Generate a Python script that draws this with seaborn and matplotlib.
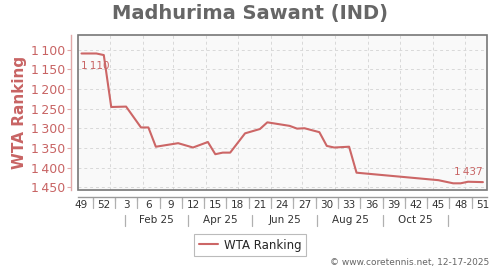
import datetime as dt
import matplotlib
matplotlib.use("Agg")
import matplotlib.pyplot as plt
import matplotlib.transforms as mtransforms
from matplotlib.patches import Rectangle
import seaborn as sns
import pandas as pd

# ---- data ----
start_date = dt.date(2024, 12, 5)          # centre of ISO week 49, 2024
week_idx = [0, 2, 3, 4, 6, 8, 9, 10, 13, 15, 17, 18, 19, 20, 22, 24, 25, 28, 29,
            30, 32, 33, 34, 36, 37, 48, 50, 51, 52, 54]
ranking = [1110, 1110, 1114, 1246, 1245, 1298, 1298, 1347, 1338, 1349, 1335, 1366,
           1362, 1362, 1313, 1302, 1285, 1294, 1301, 1300, 1310, 1345, 1349, 1347,
           1413, 1432, 1440, 1440, 1436, 1437]
week_labels = ["49", "52", "3", "6", "9", "12", "15", "18", "21", "24", "27", "30",
               "33", "36", "39", "42", "45", "48", "51"]
month_labels = ["Feb 25", "Apr 25", "Jun 25", "Aug 25", "Oct 25"]
y_ticks = [1100, 1150, 1200, 1250, 1300, 1350, 1400, 1450]
title = "Madhurima Sawant (IND)"
series_name = "WTA Ranking"
footer = "\u00a9 www.coretennis.net, 12-17-2025"

LINE = "#cc6666"
TXT = "#c86464"
GRAY = "#666666"

def xpos(d):
    return (d - start_date).days / 7.0

def fmt(v):
    s = f"{v:,}"
    return s.replace(",", "\u2009")

sns.set_style("white")
plt.rcParams["font.family"] = ["DejaVu Sans"]

fig = plt.figure(figsize=(5, 2.7), dpi=100)
ax = fig.add_axes([78 / 500, 80 / 270, 409 / 500, 155 / 270])
ax.set_facecolor("#f9f9f9")

df = pd.DataFrame({"week": week_idx, "rank": ranking})
sns.lineplot(data=df, x="week", y="rank", ax=ax, color=LINE, linewidth=1.5,
             label=series_name, legend=False)

ax.set_xlim(-0.47, 54.55)
ax.set_ylim(1457, 1063)

# spines
for s in ["top", "right"]:
    ax.spines[s].set_visible(False)
ax.spines["left"].set_position(("outward", 5))
ax.spines["left"].set_color("#e0a8a8")
ax.spines["left"].set_linewidth(1)
ax.spines["bottom"].set_position(("outward", 5))
ax.spines["bottom"].set_color("#999999")
ax.spines["bottom"].set_linewidth(1)
ax.add_patch(Rectangle((0, 0), 1, 1, transform=ax.transAxes, fill=False,
                       edgecolor="#777777", linewidth=1.2, clip_on=False, zorder=5))

# y axis
ax.set_yticks(y_ticks)
ax.set_yticklabels([fmt(v) for v in y_ticks])
ax.tick_params(axis="y", colors="#e0a8a8", labelsize=9, length=3, width=0.8, pad=1.5,
               left=True)
for lbl in ax.get_yticklabels():
    lbl.set_color(TXT)
ax.set_ylabel("")

# horizontal grid
for v in y_ticks:
    ax.axhline(v, color="#d8d8d8", linestyle=(0, (3, 3)), linewidth=0.7, zorder=0)

# vertical month grid
for m in range(1, 13):
    ax.axvline(xpos(dt.date(2025, m, 1)), color="#d8d8d8", linestyle=(0, (3, 3)),
               linewidth=0.7, zorder=0)

# x axis: labels at every 3rd week, ticks/separators between them
lab_pos = [3 * i for i in range(len(week_labels))]
sep_pos = [p + 1.5 for p in lab_pos[:-1]]
ax.set_xticks(sep_pos)
ax.set_xticklabels([])
ax.tick_params(axis="x", which="major", length=3, width=0.8, colors="#999999",
               bottom=True)
ax.set_xticks(lab_pos, minor=True)
ax.set_xticklabels(week_labels, minor=True)
ax.tick_params(axis="x", which="minor", length=0, labelsize=7.5, labelcolor="#333333",
               pad=2.5)
ax.set_xlabel("")

trans = mtransforms.blended_transform_factory(ax.transData, ax.transAxes)
row2 = -(220 - 190) / 155
SEPC = "#b0b0b0"
for p in sep_pos:
    ax.plot([p, p], [-8 / 155, -18 / 155], transform=trans, color=SEPC,
            linewidth=0.9, clip_on=False)
sep_dates = [dt.date(2025, m, 15) for m in (1, 3, 5, 7, 9, 11)]
sep2 = [xpos(d) for d in sep_dates]
for p in sep2:
    ax.plot([p, p], [-25 / 155, -36 / 155], transform=trans, color=SEPC,
            linewidth=0.9, clip_on=False)
for i, lab in enumerate(month_labels):
    ax.text((sep2[i] + sep2[i + 1]) / 2, row2, lab, transform=trans, ha="center",
            va="center", fontsize=7.5, color="#333333")

# value annotations
ax.annotate(fmt(ranking[0]), (week_idx[0], ranking[0]), xytext=(0, -9),
            textcoords="offset points", ha="left", va="center", fontsize=7.5,
            color=TXT)
ax.annotate(fmt(ranking[-1]), (week_idx[-1], ranking[-1]), xytext=(0, 7),
            textcoords="offset points", ha="right", va="center", fontsize=7.5,
            color=TXT)

# titles
fig.text(0.5, 1 - 13 / 270, title, ha="center", va="center", fontsize=14,
         fontweight="bold", color=GRAY)
fig.text(20 / 500, 1 - 112 / 270, "WTA Ranking", ha="center", va="center",
         rotation=90, fontsize=11, fontweight="bold", color=TXT)

# legend
handles, labels = ax.get_legend_handles_labels()
leg = fig.legend(handles, labels, loc="center", bbox_to_anchor=(0.5, 1 - 245 / 270),
                 fontsize=8.5, frameon=True, fancybox=False, handlelength=1.6,
                 handletextpad=0.5, borderpad=0.4)
leg.get_frame().set_edgecolor("#aaaaaa")
leg.get_frame().set_linewidth(0.8)

fig.text(489 / 500, 1 - 262 / 270, footer, ha="right", va="center", fontsize=6.5,
         color=GRAY)

fig.savefig("out.png", dpi=100)
